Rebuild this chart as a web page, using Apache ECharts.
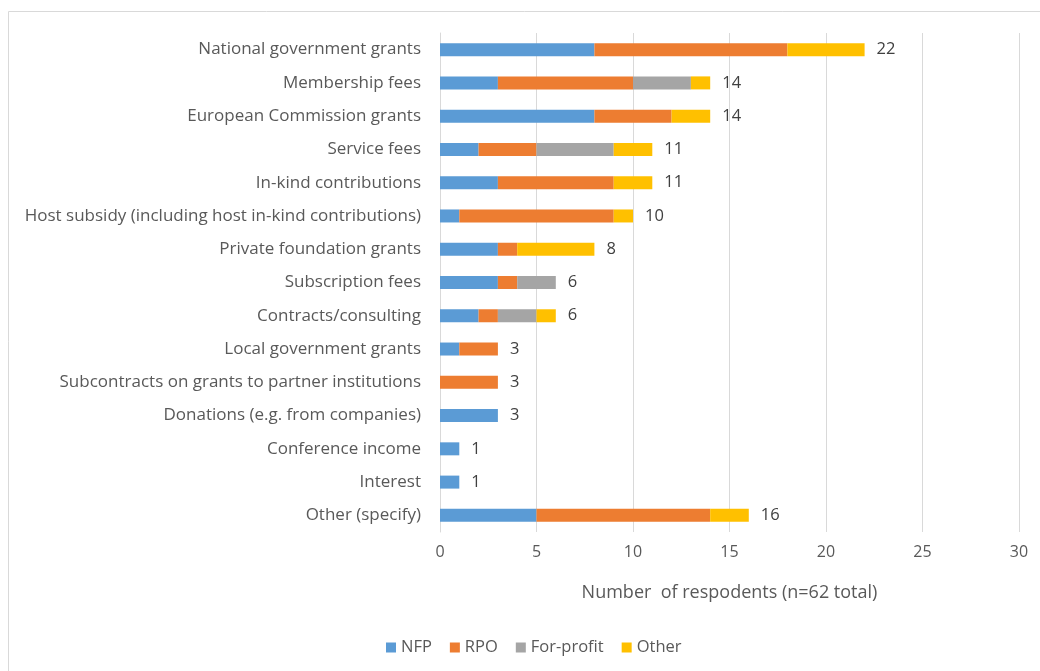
<!DOCTYPE html>
<html>
<head>
<meta charset="utf-8">
<script src="https://cdn.jsdelivr.net/npm/echarts@6/dist/echarts.min.js"></script>
<style>
  html, body { margin: 0; padding: 0; background: #fff; }
  #chart { width: 1040px; height: 671px; }
</style>
</head>
<body>
<div id="chart"></div>
<script>
// sources of funding, top to bottom
var categories = [
  'National government grants',
  'Membership fees',
  'European Commission grants',
  'Service fees',
  'In-kind contributions',
  'Host subsidy (including host in-kind contributions)',
  'Private foundation grants',
  'Subscription fees',
  'Contracts/consulting',
  'Local government grants',
  'Subcontracts on grants to partner institutions',
  'Donations (e.g. from companies)',
  'Conference income',
  'Interest',
  'Other (specify)'
];
var nfp       = [8, 3, 8, 2, 3, 1, 3, 3, 2, 1, 0, 3, 1, 1, 5];
var rpo       = [10, 7, 4, 3, 6, 8, 1, 1, 1, 2, 3, 0, 0, 0, 9];
var forProfit = [0, 3, 0, 4, 0, 0, 0, 2, 2, 0, 0, 0, 0, 0, 0];
var other     = [4, 1, 2, 2, 2, 1, 4, 0, 1, 0, 0, 0, 0, 0, 2];
var totals    = [22, 14, 14, 11, 11, 10, 8, 6, 6, 3, 3, 3, 1, 1, 16];

var font = 'Open Sans';
var textColor = '#595959';

function seg(name, data, color) {
  return {
    name: name,
    type: 'bar',
    stack: 'all',
    barWidth: 13,
    itemStyle: { color: color },
    data: data
  };
}

var myChart = echarts.init(document.getElementById('chart'));
myChart.setOption({
  animation: false,
  textStyle: { fontFamily: font, color: textColor },
  graphic: [{
    type: 'rect',
    shape: { x: 8.5, y: 11.5, width: 1100, height: 700 },
    style: { fill: null, stroke: '#d9d9d9', lineWidth: 1 },
    silent: true
  }],
  grid: { left: 440, right: 21, top: 33, bottom: 139 },
  legend: {
    data: ['NFP', 'RPO', 'For-profit', 'Other'],
    bottom: 10,
    left: 381,
    itemWidth: 10,
    itemHeight: 10,
    itemGap: 18,
    icon: 'rect',
    textStyle: { fontFamily: font, fontSize: 16.5, color: textColor }
  },
  xAxis: {
    type: 'value',
    min: 0,
    max: 30,
    interval: 5,
    name: 'Number  of respodents (n=62 total)',
    nameLocation: 'middle',
    nameGap: 52,
    nameTextStyle: { fontFamily: font, fontSize: 18, color: textColor },
    axisLine: { show: false },
    axisTick: { show: false },
    axisLabel: { fontFamily: font, fontSize: 16, color: textColor, margin: 12 },
    splitLine: { lineStyle: { color: '#d9d9d9', width: 1 } }
  },
  yAxis: {
    type: 'category',
    inverse: true,
    data: categories,
    axisLine: { show: true, lineStyle: { color: '#d9d9d9' } },
    axisTick: { show: false },
    axisLabel: { fontFamily: font, fontSize: 17, color: textColor, margin: 19 }
  },
  series: [
    seg('NFP', nfp, '#5b9bd5'),
    seg('RPO', rpo, '#ed7d31'),
    seg('For-profit', forProfit, '#a5a5a5'),
    seg('Other', other, '#ffc000'),
    {
      name: 'total',
      type: 'bar',
      stack: 'all',
      barWidth: 13,
      itemStyle: { color: 'transparent' },
      label: {
        show: true,
        position: 'right',
        distance: 12,
        fontFamily: font,
        fontSize: 16.5,
        color: '#404040',
        formatter: function (p) { return totals[p.dataIndex]; }
      },
      data: totals.map(function () { return 0; })
    }
  ]
});
</script>
</body>
</html>
